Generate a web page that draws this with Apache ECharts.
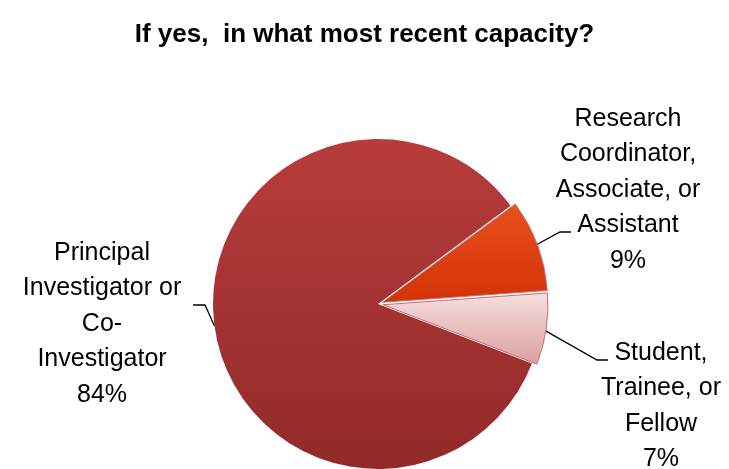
<!DOCTYPE html>
<html>
<head>
<meta charset="utf-8">
<script src="https://cdn.jsdelivr.net/npm/echarts@6/dist/echarts.min.js"></script>
<style>
  html, body { margin: 0; padding: 0; background: #fff; }
  #chart { width: 729px; height: 469px; }
</style>
</head>
<body>
<div id="chart"></div>
<script>
var titleText = 'If yes,  in what most recent capacity?';
var categories = [
    'Research\nCoordinator,\nAssociate, or\nAssistant',
    'Student,\nTrainee, or\nFellow',
    'Principal\nInvestigator or\nCo-\nInvestigator'
];
var percents = [9, 7, 84];
var exploded = [true, true, false];

// slice colours, light to dark (top to bottom)
var sliceColors = [
    ['#e8501e', '#d43206'],
    ['#f8dede', '#d9a0a0'],
    ['#b83c3c', '#922a2a']
];

// where each label sits and how its leader line bends
var labelPlaces = [
    {x: 628, y: 190, bend: [[560, 232], [571, 232]]},
    {x: 661, y: 406, bend: [[597, 360], [608, 360]]},
    {x: 102, y: 324, bend: [[205, 305], [193, 305]]}
];

var chart = echarts.init(document.getElementById('chart'));

var pieCenter = [378, 304];
var pieRadius = 165;
var pieStart = 36.5;

// the visible slices (some pulled out)
var sliceData = [];
// a transparent copy of the pie that carries the labels
var labelData = [];
for (var i = 0; i < categories.length; i++) {
    sliceData.push({
        name: categories[i],
        value: percents[i],
        selected: exploded[i],
        itemStyle: {
            color: new echarts.graphic.LinearGradient(0, 0, 0, 1, [
                {offset: 0, color: sliceColors[i][0]},
                {offset: 1, color: sliceColors[i][1]}
            ]),
            borderColor: i === 2 ? 'rgba(0,0,0,0)' : '#c07070',
            borderWidth: i === 2 ? 0 : 1
        }
    });
    labelData.push({
        name: categories[i],
        value: percents[i],
        itemStyle: {color: 'rgba(0,0,0,0)'}
    });
}

var option = {
    backgroundColor: '#ffffff',
    animation: false,
    title: {
        text: titleText,
        left: 'center',
        top: 17,
        textStyle: {
            fontFamily: 'Liberation Sans',
            fontWeight: 'bold',
            fontSize: 26,
            color: '#000'
        }
    },
    series: [{
        type: 'pie',
        center: pieCenter,
        radius: pieRadius,
        startAngle: pieStart,
        clockwise: true,
        selectedMode: 'multiple',
        selectedOffset: 5,
        data: sliceData,
        label: {show: false},
        labelLine: {show: false},
        emphasis: {disabled: true}
    }, {
        type: 'pie',
        silent: true,
        center: pieCenter,
        radius: pieRadius,
        startAngle: pieStart,
        clockwise: true,
        avoidLabelOverlap: false,
        data: labelData,
        label: {
            show: true,
            position: 'outside',
            formatter: function (p) {
                return p.name + '\n' + p.value + '%';
            },
            fontFamily: 'Liberation Sans',
            fontSize: 25,
            lineHeight: 35.5,
            color: '#000',
            align: 'center'
        },
        labelLine: {
            show: true,
            length: 15,
            length2: 10,
            lineStyle: {color: '#000', width: 1.3}
        },
        labelLayout: function (params) {
            var place = labelPlaces[params.dataIndex];
            var start = params.labelLinePoints ? params.labelLinePoints[0] : place.bend[0];
            return {
                x: place.x,
                y: place.y,
                align: 'center',
                verticalAlign: 'middle',
                labelLinePoints: [start, place.bend[0], place.bend[1]]
            };
        },
        emphasis: {disabled: true}
    }]
};
chart.setOption(option);
</script>
</body>
</html>
